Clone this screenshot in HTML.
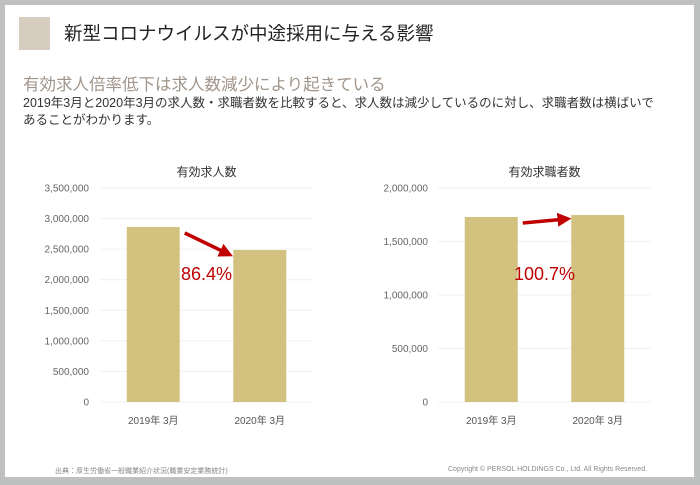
<!DOCTYPE html>
<html><head><meta charset="utf-8"><style>
body{margin:0;width:700px;height:485px;background:#bfc1c0;font-family:"Liberation Sans","Noto Sans CJK JP",sans-serif;overflow:hidden;position:relative}
#panel{position:absolute;left:5px;top:5px;width:689px;height:472px;background:#fff}
.t{position:absolute;white-space:nowrap}
</style></head><body>
<div id="panel"></div>
<div class="t" style="left:19px;top:17px;width:31px;height:33px;background:#d6ccbf"></div>
<div class="t" style="left:64px;top:20px;font-size:18.5px;color:#222">新型コロナウイルスが中途採用に与える影響</div>
<div class="t" style="left:23px;top:71px;font-size:16.5px;color:#a0958a">有効求人倍率低下は求人数減少により起きている</div>
<div class="t" style="left:23px;top:95px;font-size:12.5px;line-height:17px;color:#333">2019年3月と2020年3月の求人数・求職者数を比較すると、求人数は減少しているのに対し、求職者数は横ばいで<br>あることがわかります。</div>
<div class="t" style="left:55px;top:466px;font-size:7px;color:#888">出典：厚生労働省一般職業紹介状況(職業安定業務統計)</div>
<div class="t" style="left:448px;top:466px;font-size:7px;color:#888">Copyright © PERSOL HOLDINGS Co., Ltd. All Rights Reserved.</div>
<svg id="svg" width="700" height="485" style="position:absolute;left:0;top:0">
<defs><marker id="ah" markerWidth="4" markerHeight="4" refX="2.5" refY="2" orient="auto"><path d="M0,0 L4,2 L0,4 Z" fill="#c00000"/></marker></defs>
</svg>
<script>
const categories=["2019年 3月","2020年 3月"];
const jobOpenings=[2862000,2486000];
const jobSeekers=[1729000,1748000];
const leftTicks=[0,500000,1000000,1500000,2000000,2500000,3000000,3500000];
const rightTicks=[0,500000,1000000,1500000,2000000];
const ratioLabels=["86.4%","100.7%"];
const svg=document.getElementById('svg');
const NS='http://www.w3.org/2000/svg';
function mk(t,a,txt){const e=document.createElementNS(NS,t);for(const k in a)e.setAttribute(k,a[k]);if(txt!=null)e.textContent=txt;svg.appendChild(e);return e;}
function chart(cfg){
  const y0=402,y1=188,max=cfg.ticks[cfg.ticks.length-1];
  const ys=v=>y0-(v/max)*(y0-y1);
  const t=mk('text',{x:(cfg.gx0+cfg.gx1)/2,y:176,'text-anchor':'middle','font-size':12,fill:'#333'},cfg.title);
  
  
  cfg.ticks.forEach(v=>{
    const g=mk('line',{x1:cfg.gx0,x2:cfg.gx1,y1:ys(v),y2:ys(v),stroke:'#eef0f4','stroke-width':1});
    
    
    const l=mk('text',{x:cfg.lx,y:ys(v)+3.5,'text-anchor':'end','font-size':10,fill:'#666'},v.toLocaleString('en-US'));
    
    
  });
  const bw=(cfg.gx1-cfg.gx0)/2, w=53;
  const tops=[];
  cfg.values.forEach((v,i)=>{
    const cx=cfg.gx0+bw*(i+0.5);
    const r=mk('rect',{x:cx-w/2,y:ys(v),width:w,height:y0-ys(v),fill:'#d3c180'});
    
    
    tops.push([cx,ys(v)]);
    const c=mk('text',{x:cx,y:424,'text-anchor':'middle','font-size':10,fill:'#555'},categories[i]);
    
    
  });
  const a=mk('line',{x1:tops[0][0]+w/2+5,y1:tops[0][1]+6,x2:tops[1][0]-w/2-5,y2:tops[1][1]+4,stroke:'#c00000','stroke-width':3.5,'marker-end':'url(#ah)'});
  
  
  const p=mk('text',{x:(tops[0][0]+tops[1][0])/2,y:280,'text-anchor':'middle','font-size':18,fill:'#c00000'},cfg.ratio);
  
  
}
chart({key:'openings',title:'有効求人数',values:jobOpenings,ticks:leftTicks,gx0:100,gx1:313,lx:89,ratio:ratioLabels[0]});
chart({key:'seekers',title:'有効求職者数',values:jobSeekers,ticks:rightTicks,gx0:438,gx1:651,lx:428,ratio:ratioLabels[1]});
</script>
</body></html>
